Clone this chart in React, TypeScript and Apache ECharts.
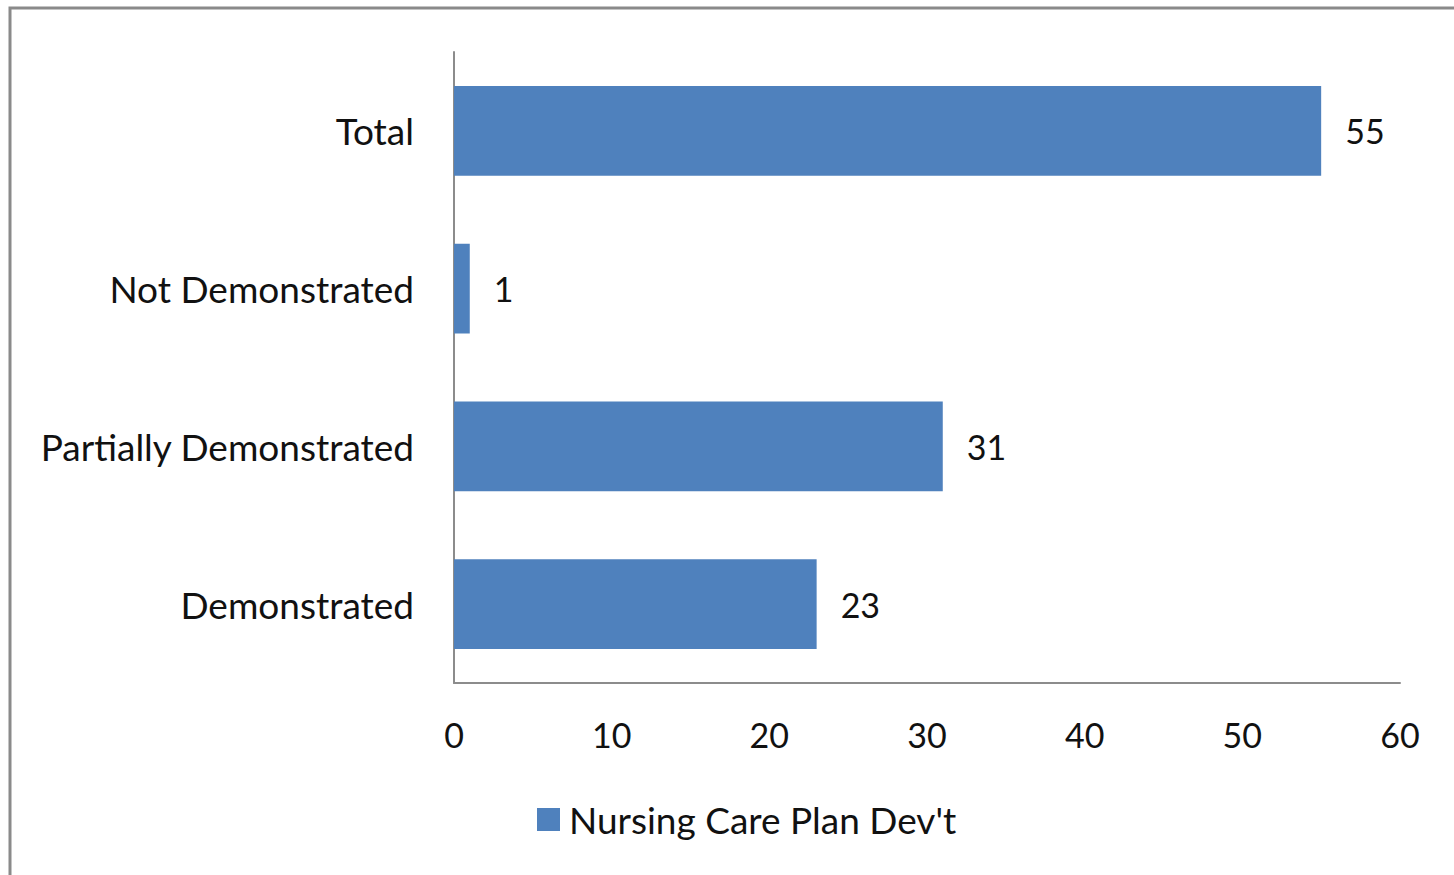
import React, { useEffect, useRef } from "react";
import * as echarts from "echarts";

const categories = ["Demonstrated", "Partially Demonstrated", "Not Demonstrated", "Total"];
const values = [23, 31, 1, 55];
const seriesName = "Nursing Care Plan Dev't";
const xMin = 0;
const xMax = 60;
const xInterval = 10;

const FONT = "Lato";

export default function App() {
  const ref = useRef<HTMLDivElement>(null);
  useEffect(() => {
    document.body.style.margin = "0";
    const chart = echarts.init(ref.current!, null, { renderer: "svg" });
    chart.setOption({
      animation: false,
      backgroundColor: "#ffffff",
      textStyle: { fontFamily: FONT },
      graphic: [
        {
          type: "rect",
          shape: { x: 10, y: 8, width: 1500, height: 950 },
          style: { fill: "none", stroke: "#8a8a8a", lineWidth: 3 },
          silent: true,
        },
      ],
      grid: { left: 454, right: 54, top: 52, bottom: 192, containLabel: false },
      xAxis: {
        type: "value",
        min: xMin,
        max: xMax,
        interval: xInterval,
        axisLine: { show: true, lineStyle: { color: "#8c8c8c", width: 2 } },
        axisTick: { show: false },
        splitLine: { show: false },
        axisLabel: { color: "#111", fontSize: 34, fontFamily: FONT, margin: 34 },
      },
      yAxis: {
        type: "category",
        data: categories,
        axisLine: { show: true, lineStyle: { color: "#8c8c8c", width: 2 } },
        axisTick: { show: false },
        axisLabel: { color: "#111", fontSize: 37, fontFamily: FONT, margin: 40 },
      },
      legend: {
        left: 532,
        top: 796,
        itemWidth: 23,
        itemHeight: 23,
        icon: "rect",
        textStyle: { color: "#111", fontSize: 37, fontFamily: FONT, padding: [0, 0, 0, 4] },
        data: [seriesName],
      },
      series: [
        {
          type: "bar",
          name: seriesName,
          data: values,
          barCategoryGap: "43%",
          itemStyle: { color: "#4F81BD" },
          label: {
            show: true,
            position: "right",
            distance: 24,
            color: "#111",
            fontSize: 34,
            fontFamily: FONT,
          },
        },
      ],
    });
    return () => chart.dispose();
  }, []);
  return <div ref={ref} style={{ width: 1454, height: 875 }} />;
}
